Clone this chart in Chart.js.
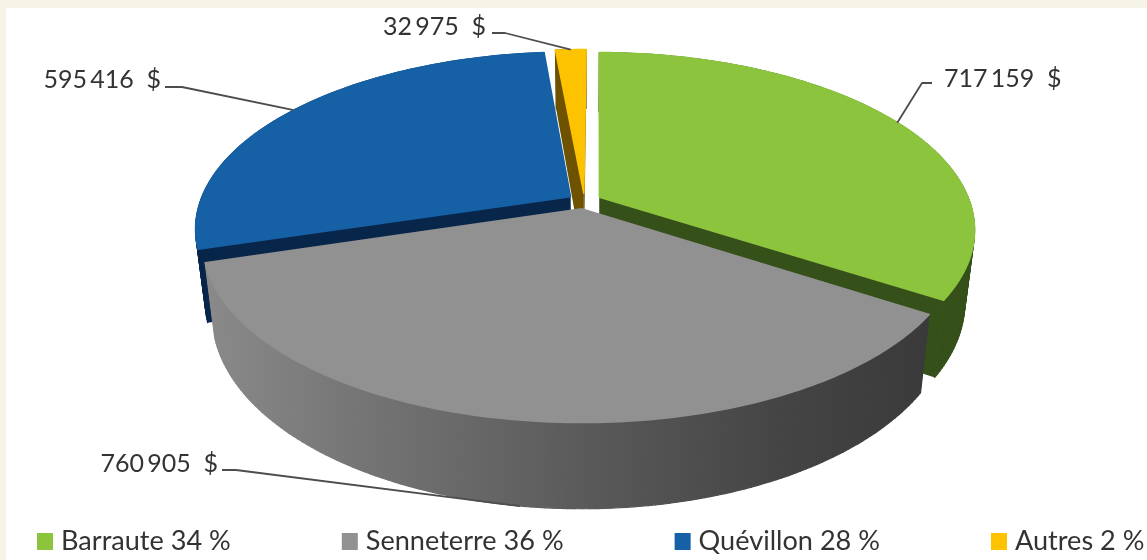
<!DOCTYPE html>
<html>
<head>
<meta charset="utf-8">
<title>Répartition</title>
<script src="https://cdn.jsdelivr.net/npm/chart.js@4"></script>
<style>
  html, body { margin: 0; padding: 0; background: #f6f4e6; }
  #wrap { width: 1147px; height: 560px; position: relative; }
</style>
</head>
<body>
<div id="wrap"><canvas id="pieChart" width="1147" height="560"></canvas></div>
<script>
// Données
const categories = ['Barraute', 'Senneterre', 'Quévillon', 'Autres'];
const amounts = [717159, 760905, 595416, 32975];
const shares = [34, 36, 28, 2];

// Couleurs
const topColors = ['#8cc43e', '#919191', '#1660a5', '#fdc300'];
const wallColors = ['#36501a', null, '#08264a', '#6e5200'];

// Vue 3D : Chart.js calcule les angles, on les projette ensuite
const view = { cx: 584.5, cy: 201, ax: 370, ay: 172, persp: 0.18, depth: 70, shrink: 0.975, explode: 0.046 };

// Étiquettes : coude et position du texte, le bout du trait vient de la tranche
const callouts = [
  { text: [944, 79], align: 'left', elbow: [[932, 83], [922, 83]] },
  { text: [218, 464], align: 'right', elbow: [[222, 470], [236, 470]], bottom: true },
  { text: [161, 80], align: 'right', elbow: [[165, 87], [182, 87]] },
  { text: [486, 27], align: 'right', elbow: [[492, 33], [505, 33]] }
];

function money(v) {
  return String(v).replace(/\B(?=(\d{3})+$)/g, '\u2009') + '  $';
}

function project(u, v, z) {
  const w = 1 + view.persp * v;
  const s = 1 - (1 - view.shrink) * z;
  return {
    x: view.cx + view.ax * u / w * s,
    y: view.cy + (-view.ay * v + view.depth * z) / w
  };
}

// Point du disque unité pour un angle Chart.js (0 = à droite, sens horaire)
function diskPoint(el, angle, r, z) {
  const mid = (el.startAngle + el.endAngle) / 2;
  const u = r * Math.cos(angle) + view.explode * Math.cos(mid);
  const v = -r * Math.sin(angle) - view.explode * Math.sin(mid);
  return project(u, v, z);
}

function rim(el, z) {
  const pts = [];
  const n = Math.max(4, Math.ceil((el.endAngle - el.startAngle) * 60));
  for (let i = 0; i <= n; i++) {
    const a = el.startAngle + (el.endAngle - el.startAngle) * i / n;
    pts.push(diskPoint(el, a, 1, z));
  }
  return pts;
}

function fillPoly(ctx, pts, style, seam) {
  ctx.beginPath();
  pts.forEach((p, i) => i ? ctx.lineTo(p.x, p.y) : ctx.moveTo(p.x, p.y));
  ctx.closePath();
  ctx.fillStyle = style;
  ctx.fill();
  if (seam) {
    ctx.strokeStyle = style;
    ctx.lineWidth = seam;
    ctx.lineJoin = 'round';
    ctx.stroke();
  }
}

function drawSlice(ctx, el, i) {
  const topRim = rim(el, 0);
  const botRim = rim(el, 1);
  const apexTop = diskPoint(el, 0, 0, 0);
  const apexBot = diskPoint(el, 0, 0, 1);
  const last = topRim.length - 1;
  let wall = wallColors[i];
  if (!wall) {
    wall = ctx.createLinearGradient(205, 0, 930, 0);
    wall.addColorStop(0, '#8a8a8a');
    wall.addColorStop(0.2, '#767676');
    wall.addColorStop(0.5, '#5c5c5c');
    wall.addColorStop(0.8, '#444444');
    wall.addColorStop(1, '#3a3a3a');
  }
  // faces de coupe puis bord extérieur, bande par bande
  fillPoly(ctx, [apexTop, topRim[0], botRim[0], apexBot], wall, 0);
  fillPoly(ctx, [apexTop, topRim[last], botRim[last], apexBot], wall, 0);
  for (let k = 0; k < last; k++) {
    fillPoly(ctx, [topRim[k], topRim[k + 1], botRim[k + 1], botRim[k]], wall, 1.2);
  }
  fillPoly(ctx, [apexTop].concat(topRim), topColors[i], 1.6);
}

const pie3d = {
  id: 'pie3d',
  beforeDraw(chart) {
    const ctx = chart.ctx;
    ctx.save();
    ctx.fillStyle = '#ffffff';
    ctx.fillRect(6, 8, chart.width - 6, chart.height - 8);
    ctx.restore();
  },
  beforeDatasetsDraw(chart) {
    const ctx = chart.ctx;
    const arcs = chart.getDatasetMeta(0).data;
    ctx.save();

    // de l'arrière vers l'avant
    [3, 2, 0, 1].forEach(i => drawSlice(ctx, arcs[i], i));

    // étiquettes de valeur et traits
    ctx.font = '25px Lato';
    ctx.textBaseline = 'middle';
    callouts.forEach((c, i) => {
      const el = arcs[i];
      const mid = (el.startAngle + el.endAngle) / 2;
      const end = diskPoint(el, mid, 1, c.bottom ? 1 : 0);
      ctx.beginPath();
      c.elbow.forEach((p, k) => k ? ctx.lineTo(p[0], p[1]) : ctx.moveTo(p[0], p[1]));
      ctx.lineTo(end.x, end.y);
      ctx.strokeStyle = '#4d4d4d';
      ctx.lineWidth = 1.8;
      ctx.stroke();
      ctx.fillStyle = '#333333';
      ctx.textAlign = c.align;
      ctx.fillText(money(amounts[i]), c.text[0], c.text[1]);
    });

    // légende
    ctx.textAlign = 'left';
    ctx.font = '27.1px Lato';
    let x = 37;
    categories.forEach((name, i) => {
      const label = name + ' ' + shares[i] + ' %';
      ctx.fillStyle = topColors[i];
      ctx.fillRect(x, 533, 16, 17);
      ctx.fillStyle = '#333333';
      ctx.fillText(label, x + 24, 541);
      x += 24 + ctx.measureText(label).width + 111;
    });

    ctx.restore();
    return false;
  }
};

new Chart(document.getElementById('pieChart').getContext('2d'), {
  type: 'pie',
  data: {
    labels: categories,
    datasets: [{ data: amounts, backgroundColor: topColors, borderWidth: 0 }]
  },
  options: {
    responsive: false,
    animation: false,
    rotation: 0.4,
    plugins: {
      legend: { display: false },
      tooltip: { enabled: false }
    }
  },
  plugins: [pie3d]
});
</script>
</body>
</html>
